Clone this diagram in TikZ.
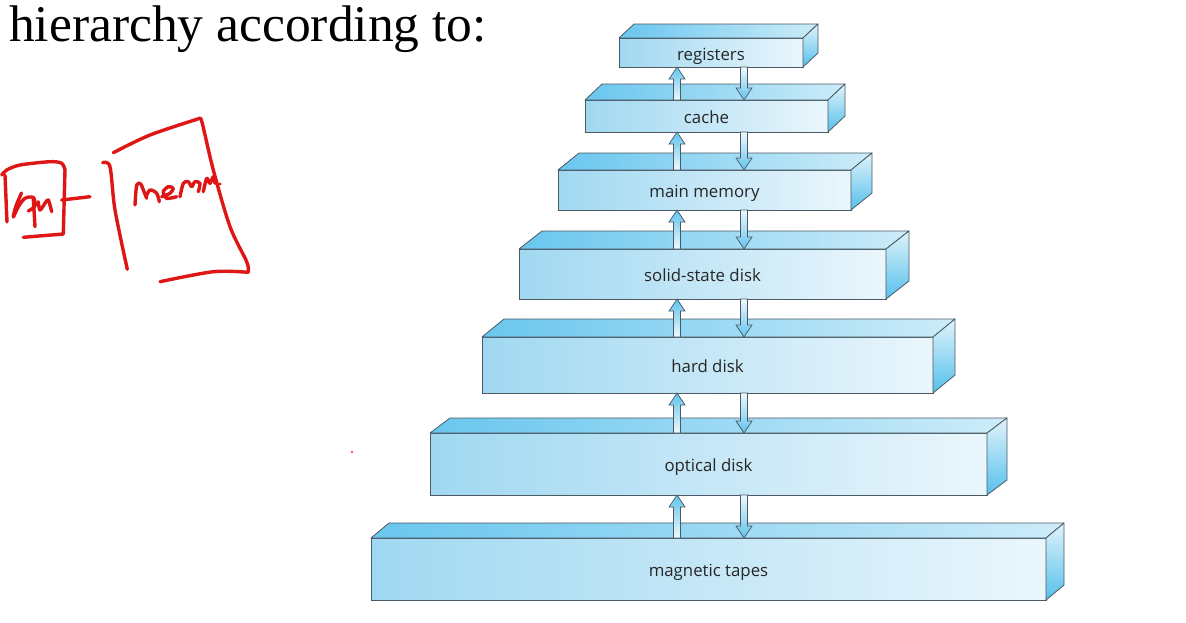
\documentclass[tikz,border=0pt]{standalone}
\usepackage{fontspec}
\setmainfont{Liberation Serif}
\newfontfamily\boxfont{Open Sans}
\usetikzlibrary{calc}
\definecolor{frontL}{RGB}{160,216,241}
\definecolor{frontR}{RGB}{234,246,252}
\definecolor{topL}{RGB}{105,198,238}
\definecolor{topR}{RGB}{205,236,249}
\definecolor{sideT}{RGB}{225,243,251}
\definecolor{sideB}{RGB}{85,192,236}
\definecolor{edge}{RGB}{75,90,100}
\definecolor{ink}{RGB}{222,22,22}
\definecolor{arrB}{RGB}{95,195,236}
\definecolor{arrW}{RGB}{240,249,253}
\newcommand\levelfaces[3]{%
  \path[topface] (#1.north west) -- ++(#2,-#3) -- ($(#1.north east)+(#2,-#3)$) -- (#1.north east) -- cycle;
  \path[sideface] (#1.north east) -- ++(#2,-#3) -- ($(#1.south east)+(#2,-#3)$) -- (#1.south east) -- cycle;}
\newcommand\fatup[3]{%
  \path[uparr] let \p1=(#1.north -| #3), \p2=(#2.south -| #3) in
  (\x1-3.5pt,\y1) -- (\x1-3.5pt,\y2-12pt) -- (\x1-8pt,\y2-12pt) -- (\x1,\y2) --
  (\x1+8pt,\y2-12pt) -- (\x1+3.5pt,\y2-12pt) -- (\x1+3.5pt,\y1) -- cycle;}
\newcommand\fatdown[3]{%
  \path[dnarr] let \p1=(#1.south -| #3), \p2=(#2.north -| #3) in
  (\x1-3.5pt,\y1) -- (\x1-3.5pt,\y2+12pt) -- (\x1-8pt,\y2+12pt) -- (\x1,\y2) --
  (\x1+8pt,\y2+12pt) -- (\x1+3.5pt,\y2+12pt) -- (\x1+3.5pt,\y1) -- cycle;}
\begin{document}
\begin{tikzpicture}[x=1pt,y=-1pt,
  front/.style={draw=edge, line width=0.8pt, left color=frontL, right color=frontR,
    inner sep=0pt, outer sep=0pt, text height=15.5pt, text depth=0pt,
    font=\boxfont\fontsize{16.8}{19}\selectfont, text=black!85},
  topface/.style={draw=edge, line width=0.8pt, left color=topL, right color=topR, line join=round},
  sideface/.style={draw=edge, line width=0.8pt, top color=sideT, bottom color=sideB, line join=round},
  uparr/.style={draw=edge, line width=0.7pt, top color=arrB, bottom color=arrW},
  dnarr/.style={draw=edge, line width=0.7pt, top color=arrW, bottom color=arrB},
  pen/.style={draw=ink, line width=3.4pt, line cap=round, line join=round}]
\useasboundingbox[fill=white] (0,0) rectangle (1186,622);

% heading
\node[anchor=base west, inner sep=0pt, font=\fontsize{51.5}{60}\selectfont] (head) at (9,41) {hierarchy according to:};

% levels
\node[front, minimum width=184pt, minimum height=29pt] (reg) at (711,52.5) {registers};
\node[front, minimum width=243pt, minimum height=32pt] (cache) at (706.5,116) {cache};
\node[front, minimum width=293pt, minimum height=40pt] (main) at (704.5,190) {main memory};
\node[front, minimum width=367pt, minimum height=50pt] (ssd) at (702.5,274) {solid-state disk};
\node[front, minimum width=451pt, minimum height=56pt] (hard) at (707.5,365) {hard disk};
\node[front, minimum width=557pt, minimum height=62pt] (optical) at (708.5,464) {optical disk};
\node[front, minimum width=675pt, minimum height=62pt] (tape) at (708.5,569) {magnetic tapes};

\levelfaces{reg}{15}{14}
\levelfaces{cache}{17}{16}
\levelfaces{main}{21}{17}
\levelfaces{ssd}{23}{18}
\levelfaces{hard}{22}{18}
\levelfaces{optical}{20}{15}
\levelfaces{tape}{18}{15}

% arrow columns
\coordinate (upcol) at (677,0);
\coordinate (dncol) at (744,0);

\fatup{cache}{reg}{upcol}     \fatdown{reg}{cache}{dncol}
\fatup{main}{cache}{upcol}    \fatdown{cache}{main}{dncol}
\fatup{ssd}{main}{upcol}      \fatdown{main}{ssd}{dncol}
\fatup{hard}{ssd}{upcol}      \fatdown{ssd}{hard}{dncol}
\fatup{optical}{hard}{upcol}  \fatdown{hard}{optical}{dncol}
\fatup{tape}{optical}{upcol}  \fatdown{optical}{tape}{dncol}

% red handwriting: cpu box
\draw[pen] (5,175) -- (7,222);
\draw[pen] plot[smooth] coordinates {(1.7,175) (6.7,170) (20,165) (50,161.7) (61.7,163.3) (65,170)};
\draw[pen] (65,170) -- (63.3,234) -- (23.3,237.3);
\draw[pen] plot[smooth] coordinates {(21.5,193) (16,206) (13.3,217) (18.3,206.7) (25,198.3) (33.3,197.5) (35,206) (28.3,211)};
\draw[pen] (33.3,198) -- (35,226.7);
\draw[pen] plot[smooth] coordinates {(38.3,201.7) (40,210) (45,203.3) (48.3,200) (51.7,211.7)};
\draw[pen] (61.7,200) -- (90,196.7);
% mem box
\draw[pen] plot[smooth] coordinates {(102.7,162.7) (110,166.7) (115,210) (127.3,269.3)};
\draw[pen] plot[smooth] coordinates {(113.3,152.7) (150,135) (200,118.3)};
\draw[pen] plot[smooth] coordinates {(200,118.3) (202.3,123.3) (213.3,170) (230,226.7) (246.7,261.7) (248.3,271.7)};
\draw[pen] plot[smooth] coordinates {(248.3,272.3) (213.3,271.7) (160,281.7)};
\draw[pen] plot[smooth] coordinates {(135,205) (136.7,185) (140.7,184) (144,191.7) (146.7,198.3)};
\draw[pen] plot[smooth] coordinates {(146,196.7) (150,190) (156.7,193.3) (159.3,201.7)};
\draw[pen] plot[smooth] coordinates {(161.7,196.7) (170,193.3) (173.3,188.3) (168.3,186.7) (163.3,191.7) (166.7,198.3) (176.7,196.7)};
\draw[pen] plot[smooth] coordinates {(180,196.7) (183.3,183.3) (188.3,181.7) (191.7,186.7) (195,181.7) (200,183.3) (198.3,191.7)};
\draw[pen] plot[smooth] coordinates {(203.3,191.7) (206.7,178.3) (210,183.3) (213.3,176.7) (215,183.3)};
\fill[ink] (220,184) circle (1.7pt);
\fill[ink!70] (352,452) circle (1.3pt);
\end{tikzpicture}
\end{document}
